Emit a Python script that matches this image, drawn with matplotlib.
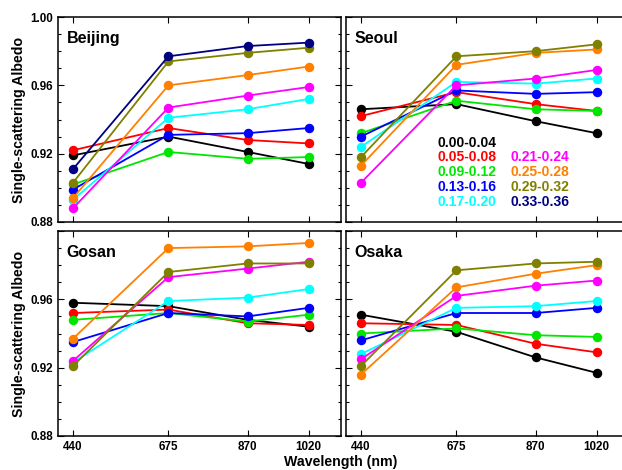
import matplotlib
matplotlib.use("Agg")
import matplotlib.pyplot as plt
from matplotlib.ticker import MultipleLocator

plt.rcParams['font.family'] = ['Liberation Sans', 'DejaVu Sans']
plt.rcParams['font.weight'] = 'bold'

wavelengths = [440, 675, 870, 1020]
xtick_labels = ['440', '675', '870', '1020']
bins = ['0.00-0.04', '0.05-0.08', '0.09-0.12', '0.13-0.16', '0.17-0.20',
        '0.21-0.24', '0.25-0.28', '0.29-0.32', '0.33-0.36']
colors = ['#000000', '#ff0000', '#00e600', '#0000ff', '#00ffff',
          '#ff00ff', '#ff8000', '#808000', '#000080']

beijing = [
    [0.919, 0.930, 0.921, 0.914],
    [0.922, 0.935, 0.928, 0.926],
    [0.902, 0.921, 0.917, 0.918],
    [0.899, 0.931, 0.932, 0.935],
    [0.893, 0.941, 0.946, 0.952],
    [0.888, 0.947, 0.954, 0.959],
    [0.894, 0.960, 0.966, 0.971],
    [0.903, 0.974, 0.979, 0.982],
    [0.911, 0.977, 0.983, 0.985],
]
seoul = [
    [0.946, 0.949, 0.939, 0.932],
    [0.942, 0.956, 0.949, 0.945],
    [0.932, 0.951, 0.946, 0.945],
    [0.930, 0.957, 0.955, 0.956],
    [0.924, 0.962, 0.961, 0.964],
    [0.903, 0.960, 0.964, 0.969],
    [0.913, 0.972, 0.979, 0.981],
    [0.918, 0.977, 0.980, 0.984],
    None,
]
gosan = [
    [0.958, 0.956, 0.948, 0.944],
    [0.952, 0.954, 0.946, 0.945],
    [0.948, 0.952, 0.947, 0.951],
    [0.935, 0.952, 0.950, 0.955],
    [0.923, 0.959, 0.961, 0.966],
    [0.924, 0.973, 0.978, 0.982],
    [0.937, 0.990, 0.991, 0.993],
    [0.921, 0.976, 0.981, 0.981],
    None,
]
osaka = [
    [0.951, 0.941, 0.926, 0.917],
    [0.946, 0.945, 0.934, 0.929],
    [0.940, 0.943, 0.939, 0.938],
    [0.936, 0.952, 0.952, 0.955],
    [0.928, 0.955, 0.956, 0.959],
    [0.925, 0.962, 0.968, 0.971],
    [0.916, 0.967, 0.975, 0.980],
    [0.921, 0.977, 0.981, 0.982],
    None,
]

sites = ['Beijing', 'Seoul', 'Gosan', 'Osaka']
site_data = [beijing, seoul, gosan, osaka]

W, H = 622, 470
fig = plt.figure(figsize=(W / 100, H / 100), dpi=100)

def rect(x0, y0, x1, y1):
    return [x0 / W, 1 - y1 / H, (x1 - x0) / W, (y1 - y0) / H]

rects = [rect(58, 17, 341, 222), rect(346, 17, 629, 222),
         rect(58, 231, 341, 436), rect(346, 231, 629, 436)]

axes = []
for i, (name, data) in enumerate(zip(sites, site_data)):
    ax = fig.add_axes(rects[i])
    axes.append(ax)
    for series, c in zip(data, colors):
        if series is None:
            continue
        ax.plot(wavelengths, series, '-o', color=c, lw=1.3, ms=5.8,
                mec=c, mfc=c, zorder=3)
    ax.set_xlim(403, 1100)
    ax.set_ylim(0.88, 1.00)
    ax.set_xticks(wavelengths)
    ax.yaxis.set_major_locator(MultipleLocator(0.04))
    ax.yaxis.set_minor_locator(MultipleLocator(0.01))
    ax.tick_params(which='both', direction='in', top=True, right=True,
                   width=0.8, labelsize=8.4)
    ax.tick_params(which='major', length=4)
    ax.tick_params(which='minor', length=2.5)
    for s in ax.spines.values():
        s.set_linewidth(1.1)
    if i < 2:
        ax.set_xticklabels([])
    else:
        ax.set_xticklabels(xtick_labels, fontweight='bold')
    if i % 2 == 1:
        ax.set_yticklabels([])
    else:
        yt = ax.get_yticks()
        labs = [f'{v:.2f}' for v in yt]
        if i == 2:
            labs = ['' if abs(v - 1.0) < 1e-9 else l for v, l in zip(yt, labs)]
        ax.set_yticklabels(labs, fontweight='bold')
        ax.set_ylabel('Single-scattering Albedo', fontsize=10.2, fontweight='bold',
                      labelpad=3)
    ax.text(0.03, 0.93, name, transform=ax.transAxes, fontsize=11.5,
            fontweight='bold', va='top', ha='left')

# legend in Seoul panel
ax = axes[1]
x1, x2 = 0.325, 0.58
ys = [0.385, 0.315, 0.243, 0.17, 0.1]
ax.text(x1, ys[0], bins[0], color=colors[0], transform=ax.transAxes,
        fontsize=10, fontweight='bold', va='center')
for k in range(4):
    ax.text(x1, ys[k + 1], bins[k + 1], color=colors[k + 1], transform=ax.transAxes,
            fontsize=10, fontweight='bold', va='center')
    ax.text(x2, ys[k + 1], bins[k + 5], color=colors[k + 5], transform=ax.transAxes,
            fontsize=10, fontweight='bold', va='center')

fig.text(341 / W, 1 - 462 / H, 'Wavelength (nm)', ha='center', va='center',
         fontsize=10.2, fontweight='bold')

fig.savefig('out.png', dpi=100)
